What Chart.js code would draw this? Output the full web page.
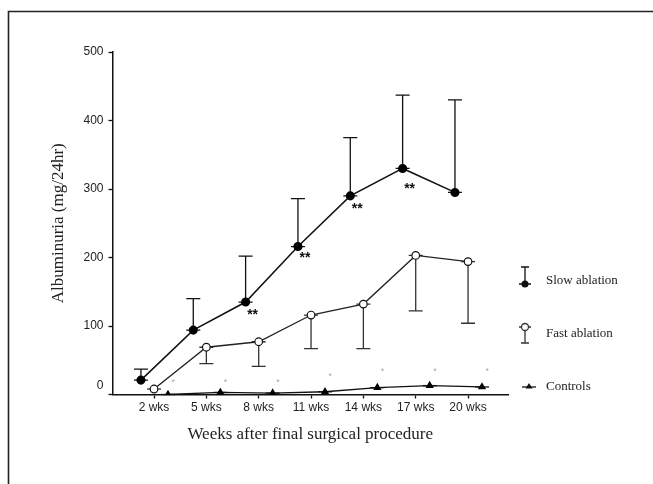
<!DOCTYPE html>
<html>
<head>
<meta charset="utf-8">
<script src="https://cdn.jsdelivr.net/npm/chart.js@4"></script>
<style>
  html, body { margin: 0; padding: 0; background: #fff; }
  #wrap { width: 653px; height: 484px; }
</style>
</head>
<body>
<div id="wrap"><canvas id="albChart" width="653" height="484"></canvas></div>
<script>
// data
const weeks = [2, 5, 8, 11, 14, 17, 20];
const slowMean = [21, 94, 135, 216, 290, 330, 295];
const slowUpper = [37, 140, 202, 286, 375, 437, 430];
const fastMean = [8, 69, 77, 116, 132, 203, 194];
const fastLower = [null, 45, 41, 67, 67, 122, 104];
const controlMean = [0, 3, 2, 4, 10, 13, 11];
const yTicks = [0, 100, 200, 300, 400, 500];
// significance marks
const slowStars = [null, null, 119, 202, 273, 302, null];     // "**" under slow ablation
const controlStars = [17, 17, 17, 26, 34, 34, 34];            // "*" next to controls

const legendNames = ['Slow ablation', 'Fast ablation', 'Controls'];

// horizontal dodge (in weeks) so the three series don't overlap
const DODGE = { slow: -0.75, fast: 0, ctrl: 0.8 };

Chart.defaults.font.family = '"Liberation Sans", Arial, sans-serif';
Chart.defaults.color = '#222';

const pts = (vals, d) => vals.map((v, i) => ({ x: weeks[i] + d, y: v }));

const serif = '"Liberation Serif", "Times New Roman", serif';

// error bars + the little horizontal dash through each point
const errorBars = {
  id: 'errorBars',
  beforeDatasetsDraw(chart) {
    const { ctx, scales: { x, y } } = chart;
    const cap = 7;
    ctx.save();
    ctx.lineWidth = 1.3;
    const bar = (wk, m, e, col) => {
      const px = x.getPixelForValue(wk), py = y.getPixelForValue(m);
      ctx.strokeStyle = col;
      ctx.beginPath();
      ctx.moveTo(px - cap, py); ctx.lineTo(px + cap, py);
      if (e != null) {
        const pe = y.getPixelForValue(e);
        ctx.moveTo(px, py); ctx.lineTo(px, pe);
        ctx.moveTo(px - cap, pe); ctx.lineTo(px + cap, pe);
      }
      ctx.stroke();
    };
    weeks.forEach((w, i) => {
      bar(w + DODGE.slow, slowMean[i], slowUpper[i], '#111');
      bar(w + DODGE.fast, fastMean[i], fastLower[i], '#333');
      bar(w + DODGE.ctrl, controlMean[i], null, '#111');
    });
    ctx.restore();
  }
};

const starMarks = {
  id: 'starMarks',
  afterDatasetsDraw(chart) {
    const { ctx, scales: { x, y } } = chart;
    ctx.save();
    ctx.textAlign = 'center';
    ctx.textBaseline = 'middle';
    weeks.forEach((w, i) => {
      if (slowStars[i] != null) {
        ctx.fillStyle = '#111';
        ctx.font = 'bold 14px "Liberation Sans", Arial';
        ctx.fillText('**', x.getPixelForValue(w + DODGE.slow + 0.4), y.getPixelForValue(slowStars[i]) + 2);
      }
      ctx.fillStyle = '#aaa';
      ctx.font = '9px "Liberation Sans", Arial';
      ctx.fillText('*', x.getPixelForValue(w + 1.1), y.getPixelForValue(controlStars[i]));
    });
    ctx.restore();
  }
};

// side legend drawn like the original (error-bar glyphs) + the page frame
const sideLegend = {
  id: 'sideLegend',
  afterDraw(chart) {
    const { ctx, chartArea } = chart;
    const sx = chartArea.right + 17, tx = chartArea.right + 38;
    const rows = [chartArea.bottom - 113.5, chartArea.bottom - 60.5, chartArea.bottom - 7.5];
    ctx.save();
    ctx.strokeStyle = '#111';
    ctx.fillStyle = '#111';
    ctx.lineWidth = 1.3;
    // slow: bar up, filled dot
    let cy = rows[0] + 3;
    ctx.beginPath();
    ctx.moveTo(sx - 6, cy); ctx.lineTo(sx + 6, cy);
    ctx.moveTo(sx, cy); ctx.lineTo(sx, cy - 17);
    ctx.moveTo(sx - 4, cy - 17); ctx.lineTo(sx + 4, cy - 17);
    ctx.stroke();
    ctx.beginPath(); ctx.arc(sx, cy, 3.5, 0, Math.PI * 2); ctx.fill();
    // fast: open dot, bar down
    cy = rows[1] - 7;
    ctx.strokeStyle = '#333';
    ctx.beginPath();
    ctx.moveTo(sx - 6, cy); ctx.lineTo(sx + 6, cy);
    ctx.moveTo(sx, cy); ctx.lineTo(sx, cy + 16);
    ctx.moveTo(sx - 4, cy + 16); ctx.lineTo(sx + 4, cy + 16);
    ctx.stroke();
    ctx.beginPath(); ctx.arc(sx, cy, 3.5, 0, Math.PI * 2);
    ctx.fillStyle = '#fff'; ctx.fill(); ctx.stroke();
    // controls: triangle with dash
    cy = rows[2];
    const cx = sx + 4;
    ctx.strokeStyle = '#111'; ctx.fillStyle = '#111';
    ctx.beginPath(); ctx.moveTo(cx - 7, cy); ctx.lineTo(cx + 7, cy); ctx.stroke();
    ctx.beginPath();
    ctx.moveTo(cx, cy - 4); ctx.lineTo(cx + 3.5, cy + 1.5); ctx.lineTo(cx - 3.5, cy + 1.5);
    ctx.closePath(); ctx.fill();
    // labels
    ctx.font = '13px ' + serif;
    ctx.textBaseline = 'middle';
    ctx.textAlign = 'left';
    ctx.fillStyle = '#222';
    legendNames.forEach((n, i) => ctx.fillText(n, tx, rows[i]));
    // frame (top and left edges only)
    ctx.strokeStyle = '#222';
    ctx.lineWidth = 1.6;
    ctx.beginPath();
    ctx.moveTo(8.5, 484); ctx.lineTo(8.5, 11.5); ctx.lineTo(653, 11.5);
    ctx.stroke();
    ctx.restore();
  }
};

new Chart(document.getElementById('albChart').getContext('2d'), {
  type: 'line',
  data: {
    datasets: [
      {
        label: legendNames[0],
        data: pts(slowMean, DODGE.slow),
        borderColor: '#111', borderWidth: 1.5,
        pointStyle: 'circle', pointRadius: 3.8,
        pointBackgroundColor: '#000', pointBorderColor: '#000'
      },
      {
        label: legendNames[1],
        data: pts(fastMean, DODGE.fast),
        borderColor: '#222', borderWidth: 1.3,
        pointStyle: 'circle', pointRadius: 3.8, pointBorderWidth: 1.2,
        pointBackgroundColor: '#fff', pointBorderColor: '#111'
      },
      {
        label: legendNames[2],
        data: pts(controlMean, DODGE.ctrl),
        borderColor: '#111', borderWidth: 1.3,
        pointStyle: 'triangle', pointRadius: 3.5,
        pointBackgroundColor: '#000', pointBorderColor: '#000'
      }
    ]
  },
  options: {
    responsive: false,
    animation: false,
    devicePixelRatio: 1,
    layout: { padding: { left: 40, right: 145, top: 52, bottom: 28 } },
    scales: {
      x: {
        type: 'linear',
        min: -0.38, max: 22.29,
        afterBuildTicks: s => { s.ticks = weeks.map(v => ({ value: v })); },
        afterFit: s => { s.height = 61.5; },
        ticks: {
          autoSkip: false, maxRotation: 0, padding: 2,
          font: { size: 12 }, color: '#222',
          callback: v => v + ' wks'
        },
        grid: { drawOnChartArea: false, drawTicks: true, tickLength: 4, color: '#111', tickWidth: 1.3 },
        border: { color: '#111', width: 1.5 },
        title: {
          display: true, text: 'Weeks after final surgical procedure',
          font: { family: serif, size: 17 }, color: '#222',
          padding: { top: 0, bottom: 11 }
        }
      },
      y: {
        min: 0, max: 500,
        afterBuildTicks: s => { s.ticks = yTicks.map(v => ({ value: v })); },
        afterFit: s => { s.width = 72.5; },
        ticks: {
          padding: 5, font: { size: 12, lineHeight: 1.4 }, color: '#222',
          // lift the zero label off the x axis like the original
          callback: v => (v === 0 ? ['0', ''] : String(v))
        },
        grid: { drawOnChartArea: false, drawTicks: true, tickLength: 4, color: '#111', tickWidth: 1.3 },
        border: { color: '#111', width: 1.5 },
        title: {
          display: true, text: 'Albuminuria (mg/24hr)',
          font: { family: serif, size: 17 }, color: '#222',
          padding: { top: 8, bottom: 0 }
        }
      }
    },
    plugins: {
      legend: { display: false },
      tooltip: { enabled: false }
    }
  },
  plugins: [errorBars, starMarks, sideLegend]
});
</script>
</body>
</html>
